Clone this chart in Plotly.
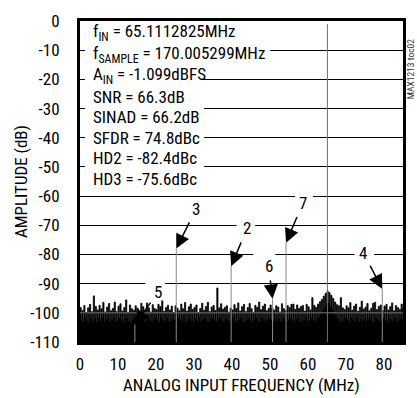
import plotly.graph_objects as go

# ---------------- data ----------------
x_tick_vals = [0, 10, 20, 30, 40, 50, 60, 70, 80]
x_tick_text = ["0", "10", "20", "30", "40", "50", "60", "70", "80"]
y_tick_vals = [0, -10, -20, -30, -40, -50, -60, -70, -80, -90, -100, -110]
y_tick_text = ["0", "-10", "-20", "-30", "-40", "-50", "-60", "-70", "-80", "-90", "-100", "-110"]

fund_freq = 65.1112825
fund_amp = -1.1

harm_labels = ["2", "3", "4", "5", "6", "7"]
harm_freq = [39.78, 25.33, 79.55, 14.44, 50.67, 54.22]
harm_amp = [-84.0, -78.0, -91.8, -104.0, -95.2, -76.0]

stat_lines = [
    "f<sub>IN</sub> = 65.1112825MHz",
    "f<sub>SAMPLE</sub> = 170.005299MHz",
    "A<sub>IN</sub> = -1.099dBFS",
    "SNR = 66.3dB",
    "SINAD = 66.2dB",
    "SFDR = 74.8dBc",
    "HD2 = -82.4dBc",
    "HD3 = -75.6dBc",
]

noise_step = 0.5  # MHz between noise peaks
noise_peaks = [
    -98.2, -99.2, -97.5, -99.9, -98.3, -97.1, -99.6, -94.2, -97.8, -99.0,
    -97.4, -98.6, -96.4, -99.7, -98.0, -96.8, -99.3, -98.5, -96.3, -99.6,
    -97.7, -96.9, -99.4, -98.2, -95.6, -99.8, -97.3, -98.6, -99.1, -97.6,
    -98.4, -100.0, -96.7, -97.9, -99.2, -96.6, -98.3, -99.7, -97.2, -98.5,
    -98.9, -97.1, -97.8, -95.9, -99.5, -98.2, -97.4, -99.0, -97.7, -100.1,
    -97.6, -98.4, -99.3, -97.0, -98.6, -96.5, -99.4, -97.9, -97.0, -98.8,
    -98.1, -97.3, -99.9, -98.5, -96.7, -99.1, -97.8, -96.4, -99.6, -98.0,
    -97.5, -99.2, -91.5, -98.3, -96.9, -98.7, -98.1, -97.6, -99.7, -98.4,
    -99.0, -97.2, -98.5, -96.6, -99.4, -97.9, -97.1, -99.6, -98.2, -96.8,
    -98.6, -99.8, -97.4, -98.1, -96.3, -98.9, -97.7, -97.0, -99.3, -98.5,
    -97.3, -98.4, -99.1, -97.6, -98.0, -99.7, -96.9, -98.6, -99.2, -97.5,
    -98.2, -97.1, -97.0, -98.8, -97.3, -98.5, -97.8, -97.5, -99.4, -97.1,
    -97.9, -99.0, -94.8, -97.4, -98.1, -97.0, -96.2, -95.4, -94.3, -93.3,
    -92.5, -93.1, -94.0, -95.1, -96.3, -97.2, -97.6, -94.8, -98.3, -98.9,
    -97.6, -98.3, -96.5, -99.1, -97.7, -97.0, -99.5, -98.1, -96.0, -98.7,
    -98.0, -96.8, -99.3, -98.4, -96.7, -96.4, -98.9, -97.8, -97.3, -99.2,
    -97.7, -97.1, -99.0, -97.9, -96.6, -99.3, -97.5, -98.2, -98.8, -97.0, -98.3,
]
noise_troughs = [
    -102.4, -103.1, -101.8, -102.6, -103.2, -101.7, -102.9, -102.1, -103.0, -101.9,
    -102.7, -101.6, -103.0, -102.3, -101.9, -103.1, -102.5, -101.7, -102.8, -103.0,
    -101.8, -102.6, -103.1, -102.0, -101.7, -102.9, -103.2, -102.2, -101.6, -102.7,
    -103.0, -102.1, -101.9, -102.8, -103.1, -101.8, -102.4, -103.0, -102.0, -101.7,
    -102.5, -103.1, -101.9, -102.3, -102.9, -101.6, -103.0, -102.6, -101.8, -102.4,
    -103.0, -101.7, -102.5, -102.9, -101.8, -103.1, -102.2, -101.9, -102.7, -103.0,
    -102.0, -102.8, -101.6, -103.1, -102.4, -101.9, -102.9, -103.0, -102.1, -101.8,
    -102.6, -103.0, -102.2, -101.7, -102.8, -103.1, -101.9, -102.5, -103.0, -102.1,
    -101.8, -102.7, -103.0, -102.0, -101.6, -102.9, -103.1, -102.3, -101.9, -102.6,
    -103.0, -102.2, -101.8, -102.7, -103.1, -101.7, -102.5, -102.9, -102.1, -101.8,
    -102.4, -103.0, -101.9, -102.6, -102.0, -103.1, -101.7, -102.8, -103.0, -102.2,
    -101.9, -102.5, -103.1, -102.1, -101.8, -102.9, -103.0, -102.3, -101.6, -102.7,
    -102.8, -101.9, -102.4, -103.0, -102.1, -101.4, -100.4, -99.2, -98.0, -96.8,
    -96.6, -97.6, -98.9, -100.2, -101.3, -102.1, -102.6, -103.0, -102.2, -101.8,
    -102.5, -103.0, -101.7, -102.3, -102.9, -101.8, -103.1, -102.0, -102.6, -101.9,
    -103.0, -102.2, -101.8, -102.7, -103.0, -101.6, -102.4, -102.9, -102.1, -101.7,
    -102.6, -103.1, -101.9, -102.3, -102.8, -101.7, -103.0, -102.4, -101.8, -102.5,
]

# ---------------- style ----------------
FONT = "Liberation Sans Narrow, Arial Narrow, Roboto Condensed, sans-serif"
X_MIN, X_MAX = 0, 85
Y_MIN, Y_MAX = -110, 0
PEAK_FRACTION = 0.62   # share of each noise bin drawn at the peak level

# offsets (pixels) of label text relative to arrow tip
label_offsets = {"2": (16, -38), "3": (20, -40), "4": (-19, -36),
                 "5": (23, -32), "6": (-4, -33), "7": (17, -40)}
# gaps cut into grid lines behind the labels: (x0, x1, grid level)
label_gaps = {"5": (17.2, 22.4, -90), "2": (41.2, 46.1, -70), "6": (45.6, 51.4, -80),
              "4": (72.2, 77.4, -80), "7": (56.6, 61.3, -60)}
stat_y = [-4.1, -11.35, -18.6, -25.9, -32.95, -40.0, -47.1, -54.15]
stat_x = 2.87

# ---------------- build traces ----------------
nx, ny = [], []
for i, p in enumerate(noise_peaks):
    nx.append(i * noise_step)
    ny.append(p)
    if i < len(noise_troughs):
        nx.append(i * noise_step + noise_step * PEAK_FRACTION)
        ny.append(noise_troughs[i])
nx += [X_MAX, X_MAX, X_MIN]
ny += [ny[-1], Y_MIN, Y_MIN]

fig = go.Figure()
fig.add_trace(go.Scatter(x=nx, y=ny, mode="lines", fill="toself", line_shape="hv",
                         fillcolor="#000000", line=dict(color="#000000", width=0.8),
                         hoverinfo="skip", showlegend=False))

hx, hy = [], []
for f, a in zip(harm_freq, harm_amp):
    hx += [f, f, None]
    hy += [Y_MIN, a, None]
fig.add_trace(go.Scatter(x=hx, y=hy, mode="lines",
                         line=dict(color="#8a8a8a", width=1),
                         hoverinfo="skip", showlegend=False))
fig.add_trace(go.Scatter(x=[fund_freq, fund_freq], y=[Y_MIN, fund_amp], mode="lines",
                         line=dict(color="#707070", width=1),
                         hoverinfo="skip", showlegend=False))

shapes = []
def white_rect(x0, x1, y0, y1):
    shapes.append(dict(type="rect", xref="x", yref="y", x0=x0, x1=x1, y0=y0, y1=y1,
                       fillcolor="white", line=dict(width=0), layer="between"))

white_rect(1.3, 50.05, -8, -12)
white_rect(1.3, 32.1, -18, -22)
white_rect(1.3, 32.6, -28, -52)
for lab, (x0, x1, g) in label_gaps.items():
    white_rect(x0, x1, g + 1.3, g - 1.3)
# -100 grid line shows through the noise floor
shapes.append(dict(type="line", xref="x", yref="y", x0=X_MIN, x1=X_MAX, y0=-100, y1=-100,
                   line=dict(color="#7a7a7a", width=1), layer="above"))

annotations = []
for txt, yy in zip(stat_lines, stat_y):
    annotations.append(dict(x=stat_x, y=yy, xref="x", yref="y", text=txt,
                            showarrow=False, xanchor="left", yanchor="middle",
                            font=dict(family=FONT, size=17, color="black")))

for lab, f, a in zip(harm_labels, harm_freq, harm_amp):
    ax, ay = label_offsets[lab]
    annotations.append(dict(x=f, y=a, xref="x", yref="y", text=lab,
                            showarrow=True, arrowhead=2, arrowsize=1.9,
                            arrowwidth=1.5, arrowcolor="black", ax=ax, ay=ay,
                            standoff=0, startstandoff=3,
                            font=dict(family=FONT, size=17, color="black")))

annotations.append(dict(x=-0.184, y=0.5, xref="paper", yref="paper",
                        text="AMPLITUDE (dB)", showarrow=False, textangle=-90,
                        xanchor="center", yanchor="middle",
                        font=dict(family=FONT, size=17, color="black")))
annotations.append(dict(x=0.5, y=-0.135, xref="paper", yref="paper",
                        text="ANALOG INPUT FREQUENCY (MHz)", showarrow=False,
                        xanchor="center", yanchor="middle",
                        font=dict(family=FONT, size=17, color="black")))
annotations.append(dict(x=1.022, y=0.85, xref="paper", yref="paper",
                        text="MAX1213 toc02", showarrow=False, textangle=-90,
                        xanchor="center", yanchor="middle",
                        font=dict(family=FONT, size=9.5, color="#333333")))

fig.update_layout(
    width=417, height=398,
    margin=dict(l=80, r=11, t=15, b=56),
    paper_bgcolor="white", plot_bgcolor="white",
    showlegend=False,
    shapes=shapes, annotations=annotations,
    font=dict(family=FONT, size=17, color="black"),
)
fig.update_xaxes(range=[X_MIN, X_MAX], tickvals=x_tick_vals, ticktext=x_tick_text,
                 showgrid=False, zeroline=False, showline=True, mirror=True,
                 linecolor="black", linewidth=3, ticks="outside", ticklen=5,
                 tickcolor="rgba(0,0,0,0)", tickfont=dict(family=FONT, size=17))
fig.update_yaxes(range=[Y_MIN, Y_MAX], tickvals=y_tick_vals, ticktext=y_tick_text,
                 showgrid=True, gridcolor="black", gridwidth=1, zeroline=False,
                 showline=True, mirror=True, linecolor="black", linewidth=3,
                 ticks="outside", ticklen=14, tickcolor="rgba(0,0,0,0)",
                 tickfont=dict(family=FONT, size=17))

fig.write_html("out.html")
